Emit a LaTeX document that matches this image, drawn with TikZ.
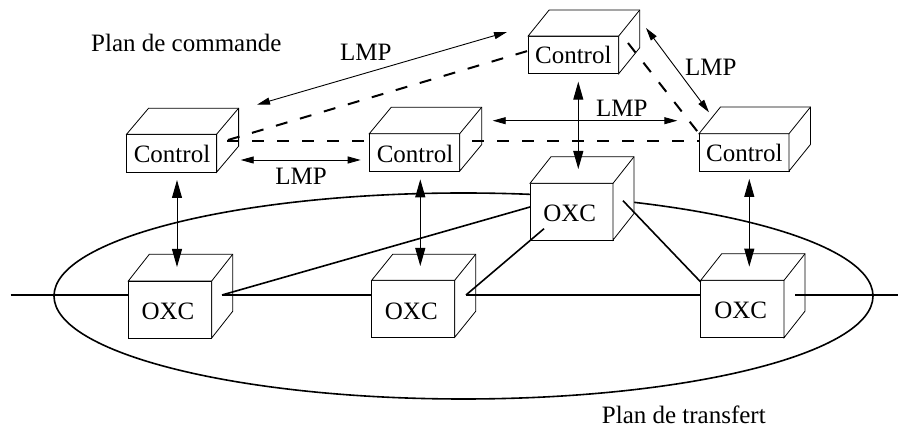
\documentclass[tikz,border=0pt]{standalone}
\usepackage{fontspec}
\setmainfont{Liberation Serif}
\usetikzlibrary{arrows.meta,shapes.geometric}
\tikzset{
  front/.style={draw=black,fill=white,line width=0.9pt,inner sep=0pt,outer sep=0pt},
  face/.style={draw=black,fill=white,line width=0.8pt,line join=miter},
  lbl/.style={anchor=base,inner sep=0pt,font=\fontsize{25}{30}\selectfont},
  plane/.style={lbl,anchor=base west},
  thick link/.style={line width=1.6pt},
  ctrl link/.style={line width=2pt,dash pattern=on 12pt off 13pt},
  lmp/.style={line width=0.9pt,{Triangle[length=13pt,width=7pt]}-{Triangle[length=13pt,width=7pt]}},
  vert/.style={line width=1pt,{Triangle[length=18pt,width=10pt]}-{Triangle[length=18pt,width=10pt]}},
}
% name, centre x, centre y, width, height, depth x, depth y
\newcommand\cubebox[7]{%
  \node[front,minimum width=#4pt,minimum height=#5pt] (#1) at (#2,#3) {};
  \draw[face] (#1.north west) -- ++(#6,-#7) -- ++(#4,0) -- ++(0,#5) -- (#1.south east) -- (#1.north east) -- cycle;
  \draw[face,fill=none] (#1.north east) -- ++(#6,-#7);
}
\begin{document}
\begin{tikzpicture}[x=1pt,y=-1pt]
\useasboundingbox (0,0) rectangle (898,427);
% transfer plane
\node[draw=black,line width=1.6pt,ellipse,minimum width=819pt,minimum height=206pt,inner sep=0pt,outer sep=0pt] (plane) at (463.5,296) {};
% boxes
\cubebox{c1}{171.6}{153.2}{90}{38}{22}{26}
\cubebox{c2}{414.5}{152.4}{90.4}{37.4}{22}{26.5}
\cubebox{c3}{573.4}{54.9}{90.6}{37.7}{21}{26}
\cubebox{c4}{744}{152.4}{90}{37.4}{21.5}{26.7}
\cubebox{o1}{170}{309.5}{83.4}{57}{21}{26.7}
\cubebox{o2}{413.2}{308.8}{83}{57}{21}{26}
\cubebox{o3}{571.5}{211.7}{83}{56.7}{21}{26.6}
\cubebox{o4}{742.4}{309}{83.3}{57.4}{21}{26.6}
% labels
\node[lbl] (tc1) at (172,162.3) {Control};
\node[lbl] (tc2) at (415,162.3) {Control};
\node[lbl] (tc3) at (573.3,64) {Control};
\node[lbl] (tc4) at (744.3,162) {Control};
\node[lbl] (to1) at (168,320) {OXC};
\node[lbl] (to2) at (411.3,320) {OXC};
\node[lbl] (to3) at (569.7,221.7) {OXC};
\node[lbl] (to4) at (740.7,318.7) {OXC};
\node[lbl] (l1) at (365.7,61) {LMP};
\node[lbl] (l2) at (301,185) {LMP};
\node[lbl] (l3) at (621.7,116.7) {LMP};
\node[lbl] (l4) at (710.7,76) {LMP};
\node[plane] (pc) at (91,51.7) {Plan de commande};
\node[plane] (pt) at (601.7,424) {Plan de transfert};
% free connector ends
\coordinate (westend) at (10.5,295);
\coordinate (eastend) at (898,295);
\coordinate (o1out) at (222,295);
\coordinate (o2out) at (466,295);
\coordinate (o4out) at (795,295);
\coordinate (o1in) at (128.3,295);
\coordinate (o2in) at (371.7,295);
\coordinate (o4in) at (700.7,295);
\coordinate (o3a) at (530,207);
\coordinate (o3b) at (544,228.7);
\coordinate (o3c) at (623,200.7);
\coordinate (o4top) at (700.7,282);
\coordinate (c1d) at (227,140.7);
\coordinate (c2dl) at (369.3,140.7);
\coordinate (c2dr) at (460,140.7);
\coordinate (c4dl) at (699,140.7);
\coordinate (c1u) at (228,140);
\coordinate (c3dl) at (527.5,51);
\coordinate (c3dr) at (628,43);
\coordinate (c4dt) at (699,133.5);
% data links
\draw[thick link] (westend) -- (o1in);
\draw[thick link] (o1out) -- (o2in);
\draw[thick link] (o2out) -- (o4in);
\draw[thick link] (o4out) -- (eastend);
\draw[thick link] (o1out) -- (o3a);
\draw[thick link] (o2out) -- (o3b);
\draw[thick link] (o3c) -- (o4top);
% control links
\draw[ctrl link] (c1d) -- (c2dl);
\draw[ctrl link,dash phase=13pt] (c2dr) -- (c4dl);
\draw[ctrl link] (c1u) -- (c3dl);
\draw[ctrl link] (c3dr) -- (c4dt);
% LMP arrows
\coordinate (a1s) at (240.7,160); \coordinate (a1e) at (360.7,160);
\coordinate (a2s) at (257,104.7); \coordinate (a2e) at (507,32);
\coordinate (a3s) at (492.7,120.7); \coordinate (a3e) at (677.3,120.7);
\coordinate (a4s) at (646,28); \coordinate (a4e) at (709,112.3);
\draw[lmp] (a1s) -- (a1e);
\draw[lmp] (a2s) -- (a2e);
\draw[lmp] (a3s) -- (a3e);
\draw[lmp] (a4s) -- (a4e);
% vertical arrows
\coordinate (v1s) at (177,180); \coordinate (v1e) at (177,267);
\coordinate (v2s) at (420.3,179.3); \coordinate (v2e) at (420.3,266);
\coordinate (v3s) at (578.3,81.7); \coordinate (v3e) at (578.3,169);
\coordinate (v4s) at (749.3,179); \coordinate (v4e) at (749.3,266.7);
\draw[vert] (v1s) -- (v1e);
\draw[vert] (v2s) -- (v2e);
\draw[vert] (v3s) -- (v3e);
\draw[vert] (v4s) -- (v4e);
\end{tikzpicture}
\end{document}
